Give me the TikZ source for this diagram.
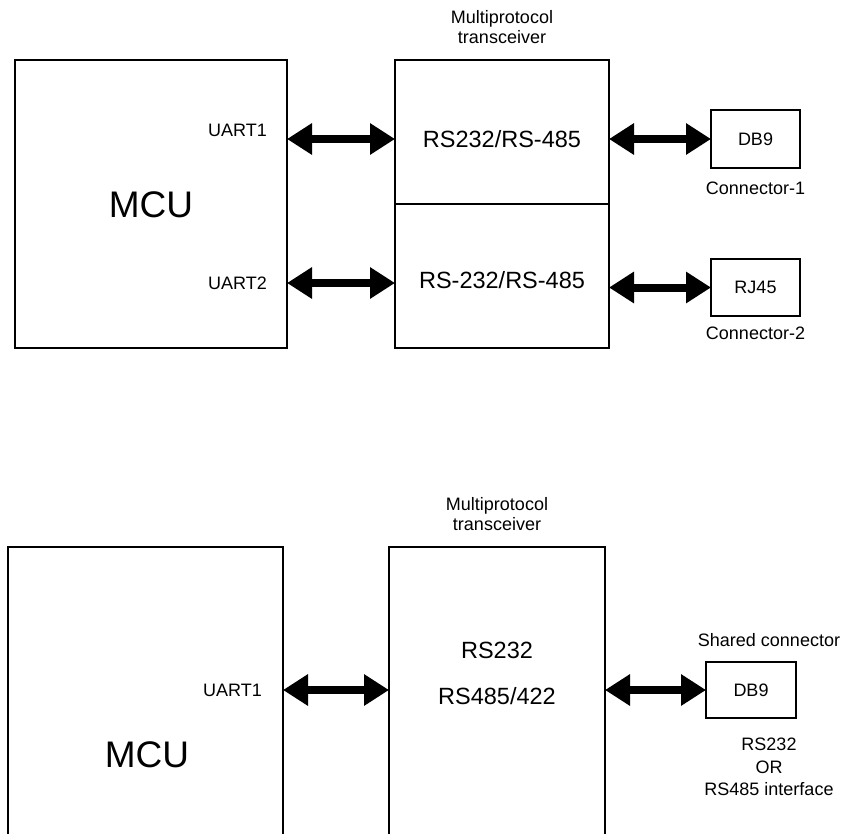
\documentclass[tikz,border=0pt]{standalone}
\usepackage{fontspec}
\setmainfont{Liberation Sans}
\usetikzlibrary{arrows.meta}
\usetikzlibrary{positioning}
\tikzstyle{block} = [draw, rectangle, line width=2pt, inner sep=0pt, outer sep=0pt]
\tikzstyle{connbox} = [draw, rectangle, line width=2pt, inner sep=0pt, outer sep=0pt, minimum width=89pt, minimum height=57pt, font=\fontsize{18}{20}\selectfont]
\tikzstyle{lbl} = [inner sep=0pt, align=center, font=\fontsize{18}{20}\selectfont]
\tikzstyle{proto} = [inner sep=0pt, font=\fontsize{23.5}{26}\selectfont]
\tikzstyle{big} = [inner sep=0pt, font=\fontsize{37}{40}\selectfont]
\tikzstyle{bus} = [line width=8pt, {Triangle[width=30pt,length=25pt]}-{Triangle[width=30pt,length=25pt]}]

\begin{document}
\begin{tikzpicture}[x=1pt, y=1pt]
  \useasboundingbox (0,0) rectangle (846,-833);
  \clip (0,0) rectangle (846,-833);

  % two UARTs, two connectors
  \node[block, minimum width=272, minimum height=288] (mcu1) at (151,-204) {};
  \node[big] (mcu1t) at (151,-205) {MCU};
  \node[block, minimum width=214, minimum height=144] (xcvr1a) at (502,-132) {};
  \node[block, minimum width=214, minimum height=144, below=0pt of xcvr1a] (xcvr1b) {};
  \node[lbl, above=16pt of xcvr1a] (mp1) {Multiprotocol\\transceiver};
  \node[proto] (rs1a) at (502,-139) {RS232/RS-485};
  \node[proto] (rs1b) at (502,-280) {RS-232/RS-485};
  \node[lbl, anchor=east] (uart1) at (267,-130) {UART1};
  \node[lbl, anchor=east] (uart2) at (267,-283) {UART2};
  \node[connbox, minimum height=58] (db1) at (755.5,-139) {DB9};
  \node[connbox] (rj1) at (755.5,-287.5) {RJ45};
  \node[lbl, below=14pt of db1] (con1) {Connector-1};
  \node[lbl, below=11pt of rj1] (con2) {Connector-2};

  \draw[bus] (mcu1.east |- rs1a) -- (xcvr1a.west |- rs1a);
  \draw[bus] (xcvr1a.east |- db1) -- (db1.west);
  \draw[bus] (mcu1.east |- uart2.east) -- (xcvr1b.west |- uart2.east);
  \draw[bus] (xcvr1b.east |- rj1) -- (rj1.west);

  % one UART, shared connector
  \node[block, minimum width=275, minimum height=320] (mcu2) at (145.5,-707) {};
  \node[big] (mcu2t) at (147,-755) {MCU};
  \node[block, minimum width=216, minimum height=320] (xcvr2) at (497,-707) {};
  \node[lbl, above=16pt of xcvr2] (mp2) {Multiprotocol\\transceiver};
  \node[proto] (rs2a) at (497,-650) {RS232};
  \node[proto] (rs2b) at (497,-696) {RS485/422};
  \node[lbl, anchor=east] (uart3) at (262,-690) {UART1};
  \node[connbox, minimum width=90, minimum height=56] (db2) at (751,-690) {DB9};
  \node[lbl, above=15pt of db2, xshift=18pt] (shared) {Shared connector};
  \node[lbl, below=20pt of db2, xshift=18pt, font=\fontsize{18}{22.5}\selectfont] (iface) {RS232\\OR\\RS485 interface};

  \draw[bus] (mcu2.east |- uart3.east) -- (xcvr2.west |- uart3.east);
  \draw[bus] (xcvr2.east |- db2) -- (db2.west);
\end{tikzpicture}
\end{document}
